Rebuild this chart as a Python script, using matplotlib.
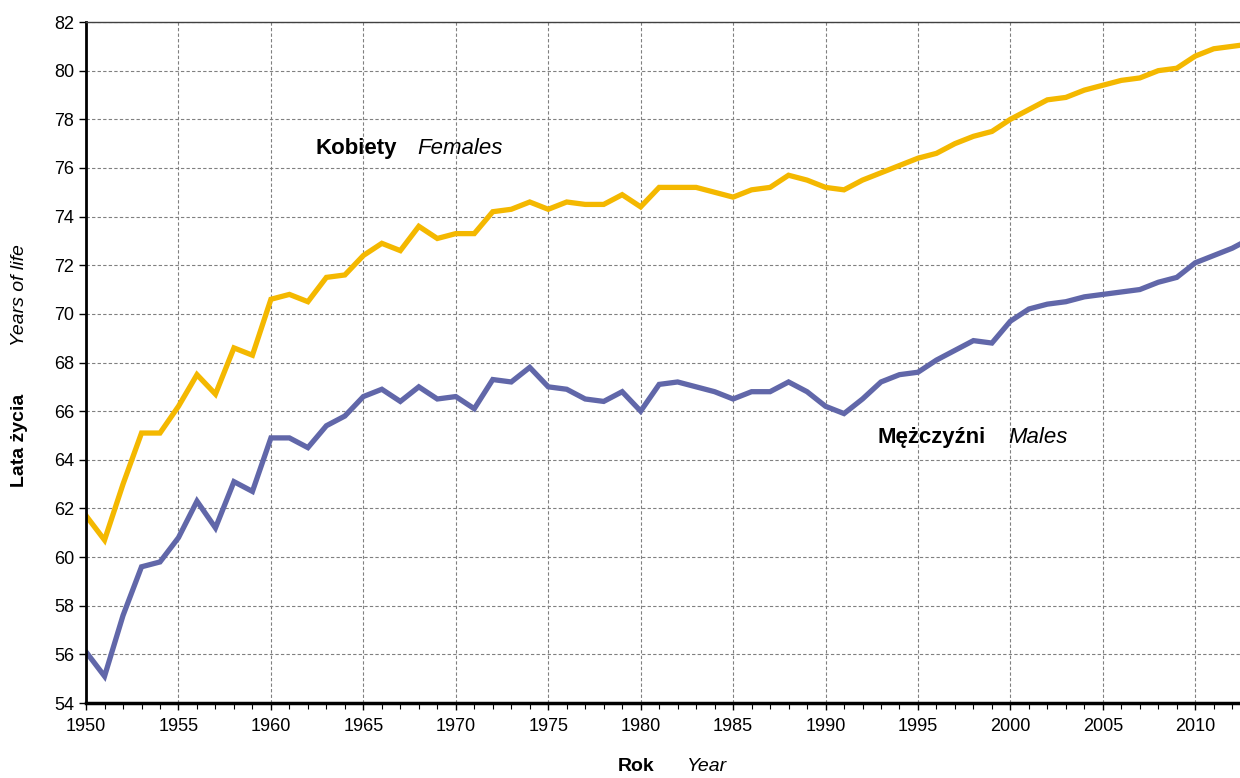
import matplotlib.pyplot as plt
from matplotlib.ticker import MultipleLocator

plt.rcParams['font.family'] = ['Liberation Sans', 'DejaVu Sans']

years = list(range(1950, 2014))

females = [61.7, 60.7, 63.0, 65.1, 65.1, 66.2, 67.5, 66.7, 68.6, 68.3,
           70.6, 70.8, 70.5, 71.5, 71.6, 72.4, 72.9, 72.6, 73.6, 73.1,
           73.3, 73.3, 74.2, 74.3, 74.6, 74.3, 74.6, 74.5, 74.5, 74.9,
           74.4, 75.2, 75.2, 75.2, 75.0, 74.8, 75.1, 75.2, 75.7, 75.5,
           75.2, 75.1, 75.5, 75.8, 76.1, 76.4, 76.6, 77.0, 77.3, 77.5,
           78.0, 78.4, 78.8, 78.9, 79.2, 79.4, 79.6, 79.7, 80.0, 80.1,
           80.6, 80.9, 81.0, 81.1]

males = [56.1, 55.1, 57.6, 59.6, 59.8, 60.8, 62.3, 61.2, 63.1, 62.7,
         64.9, 64.9, 64.5, 65.4, 65.8, 66.6, 66.9, 66.4, 67.0, 66.5,
         66.6, 66.1, 67.3, 67.2, 67.8, 67.0, 66.9, 66.5, 66.4, 66.8,
         66.0, 67.1, 67.2, 67.0, 66.8, 66.5, 66.8, 66.8, 67.2, 66.8,
         66.2, 65.9, 66.5, 67.2, 67.5, 67.6, 68.1, 68.5, 68.9, 68.8,
         69.7, 70.2, 70.4, 70.5, 70.7, 70.8, 70.9, 71.0, 71.3, 71.5,
         72.1, 72.4, 72.7, 73.1]

fig = plt.figure(figsize=(12.4, 7.78), dpi=100)
ax = fig.add_axes([0.0694, 0.0964, 0.9306, 0.8753])

ax.plot(years, females, color='#F4B800', lw=3.8, solid_joinstyle='miter', clip_on=True)
ax.plot(years, males, color='#6167A9', lw=3.8, solid_joinstyle='miter', clip_on=True)

ax.set_xlim(1950, 2012.42)
ax.set_ylim(54, 82)
ax.xaxis.set_major_locator(MultipleLocator(5))
ax.xaxis.set_minor_locator(MultipleLocator(1))
ax.yaxis.set_major_locator(MultipleLocator(2))

ax.grid(True, which='major', color='#808080', ls=(0, (3, 2)), lw=0.8)
ax.tick_params(axis='both', which='major', labelsize=13, direction='out', length=5, width=1)
ax.tick_params(axis='x', which='minor', direction='out', length=4, width=0.8)
ax.tick_params(axis='x', pad=6)

ax.spines['right'].set_visible(False)
ax.spines['left'].set_linewidth(2)
ax.spines['bottom'].set_linewidth(2.5)
ax.spines['top'].set_linewidth(1)
ax.spines['top'].set_color('#404040')

# series labels
ax.text(1962.4, 76.78, 'Kobiety', fontsize=16, fontweight='bold', va='center', ha='left')
ax.text(1967.9, 76.78, 'Females', fontsize=16, style='italic', va='center', ha='left')
ax.text(1992.8, 64.9, 'Mężczyźni', fontsize=16, fontweight='bold', va='center', ha='left')
ax.text(1999.9, 64.9, 'Males', fontsize=16, style='italic', va='center', ha='left')

# axis titles
fig.text(0.016, 0.434, 'Lata życia', rotation=90, fontsize=14, fontweight='bold', ha='center', va='center')
fig.text(0.016, 0.621, 'Years of life', rotation=90, fontsize=14, style='italic', ha='center', va='center')
fig.text(0.513, 0.015, 'Rok', fontsize=14, fontweight='bold', ha='center', va='center')
fig.text(0.570, 0.015, 'Year', fontsize=14, style='italic', ha='center', va='center')

fig.savefig('out.png', dpi=100)
